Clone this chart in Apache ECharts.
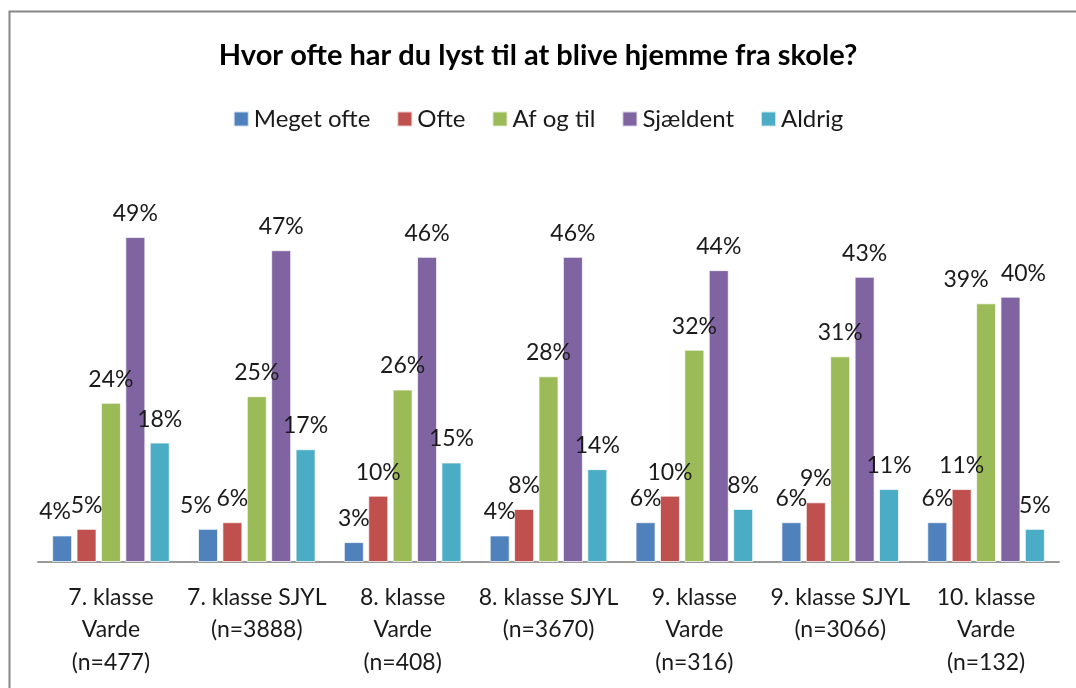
<!DOCTYPE html>
<html>
<head>
<meta charset="utf-8">
<script src="https://cdn.jsdelivr.net/npm/echarts@6/dist/echarts.min.js"></script>
<style>
  html, body { margin: 0; padding: 0; background: #fff; }
  #chart { width: 1076px; height: 688px; }
</style>
</head>
<body>
<div id="chart"></div>
<script>
// Data
const categories = [
  '7. klasse\nVarde\n(n=477)',
  '7. klasse SJYL\n(n=3888)',
  '8. klasse\nVarde\n(n=408)',
  '8. klasse SJYL\n(n=3670)',
  '9. klasse\nVarde\n(n=316)',
  '9. klasse SJYL\n(n=3066)',
  '10. klasse\nVarde\n(n=132)'
]
const seriesNames = ['Meget ofte', 'Ofte', 'Af og til', 'Sjældent', 'Aldrig']
const megetOfte = [4, 5, 3, 4, 6, 6, 6]
const ofte = [5, 6, 10, 8, 10, 9, 11]
const afOgTil = [24, 25, 26, 28, 32, 31, 39]
const sjaeldent = [49, 47, 46, 46, 44, 43, 40]
const aldrig = [18, 17, 15, 14, 8, 11, 5]

const colors = ['#4F81BD', '#C0504D', '#9BBB59', '#8064A2', '#4BACC6']
const font = 'Lato, "Open Sans", sans-serif'

// horizontal nudges of crowded value labels (series index -> {category index: px})
const labelShift = {
  0: { 0: -7, 1: -12 },
  2: { 6: -20 },
  3: { 6: 13 }
}

let myChart = echarts.init(document.getElementById('chart'))

const seriesData = [megetOfte, ofte, afOgTil, sjaeldent, aldrig]

function buildData(values, si) {
  const shifts = labelShift[si] || {}
  return values.map((v, ci) => shifts[ci] !== undefined
    ? { value: v, label: { offset: [shifts[ci], 0] } }
    : v)
}

myChart.setOption({
  color: colors,
  animation: false,
  textStyle: { fontFamily: font },
  title: {
    text: 'Hvor ofte har du lyst til at blive hjemme fra skole?',
    left: 'center',
    top: 36,
    textStyle: { fontSize: 29, fontWeight: 'bold', color: '#000', fontFamily: font }
  },
  legend: {
    top: 102,
    left: 'center',
    itemWidth: 15,
    itemHeight: 15,
    itemGap: 26,
    icon: 'rect',
    textStyle: { fontSize: 24, color: '#1a1a1a' },
    data: seriesNames
  },
  // chart frame (cropped on right/bottom like the original)
  graphic: [{
    type: 'rect',
    shape: { x: 9.5, y: 11.5, width: 1200, height: 800 },
    style: { fill: 'none', stroke: '#878787', lineWidth: 2 },
    silent: true
  }],
  grid: {
    left: 38,
    right: 17,
    top: 164,
    bottom: 126
  },
  xAxis: {
    type: 'category',
    data: categories,
    axisLine: { lineStyle: { color: '#9a9a9a', width: 2 } },
    axisTick: { show: false },
    axisLabel: {
      fontSize: 23,
      lineHeight: 32.5,
      margin: 19,
      color: '#1a1a1a',
      interval: 0
    }
  },
  yAxis: {
    type: 'value',
    min: 0,
    max: 60,
    show: false,
    splitLine: { show: false }
  },
  series: seriesNames.map((name, i) => ({
    name: name,
    type: 'bar',
    data: buildData(seriesData[i], i),
    barWidth: 20,
    barGap: '22%',
    itemStyle: { borderColor: 'rgba(255,255,255,0.7)', borderWidth: 1 },
    label: {
      show: true,
      position: 'top',
      distance: 12,
      fontSize: 23,
      color: '#1a1a1a',
      formatter: '{c}%'
    }
  }))
})

window.addEventListener('resize', () => {
  myChart.resize()
})
</script>
</body>
</html>
